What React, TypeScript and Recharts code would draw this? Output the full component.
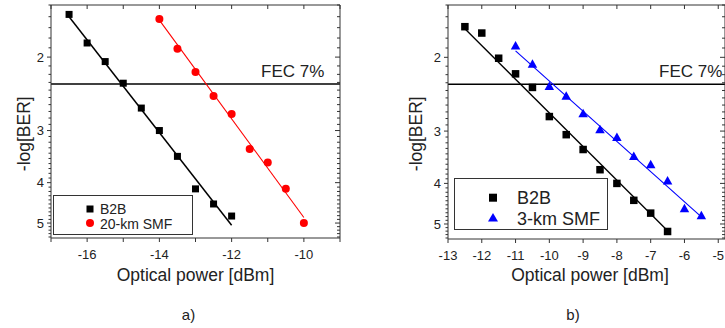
import React from 'react'
import { ComposedChart, Line, Scatter, XAxis, YAxis, ReferenceLine } from 'recharts'

// panel a) data
const b2bAx = [-16.5, -16, -15.5, -15, -14.5, -14, -13.5, -13, -12.5, -12]
const b2bAy = [1.58, 1.85, 2.05, 2.31, 2.65, 3.0, 3.46, 4.14, 4.5, 4.81]
const smf20x = [-14, -13.5, -13, -12.5, -12, -11.5, -11, -10.5, -10]
const smf20y = [1.62, 1.91, 2.17, 2.48, 2.74, 3.32, 3.58, 4.14, 5.0]
const fitB2bAx = [-16.5, -12]
const fitB2bAy = [1.6, 5.06]
const fitSmf20x = [-14, -10]
const fitSmf20y = [1.63, 4.85]

// panel b) data
const b2bBx = [-12.5, -12, -11.5, -11, -10.5, -10, -9.5, -9, -8.5, -8, -7.5, -7, -6.5]
const b2bBy = [1.69, 1.75, 2.01, 2.19, 2.36, 2.77, 3.06, 3.32, 3.71, 4.0, 4.39, 4.71, 5.21]
const smf3x = [-11, -10.5, -10, -9.5, -9, -8.5, -8, -7.5, -7, -6.5, -6, -5.5]
const smf3y = [1.88, 2.08, 2.35, 2.48, 2.73, 2.98, 3.11, 3.45, 3.61, 3.95, 4.6, 4.78]
const fitB2bBx = [-12.5, -6.5]
const fitB2bBy = [1.71, 5.19]
const fitSmf3x = [-11, -5.5]
const fitSmf3y = [1.93, 4.81]

const fecLevel = 2.32
const yMajor = [2, 3, 4, 5]
const yMinor = [1.5, 1.6, 1.7, 1.8, 1.9, 2.1, 2.2, 2.3, 2.4, 2.5, 2.6, 2.7, 2.8, 2.9,
  3.1, 3.2, 3.3, 3.4, 3.5, 3.6, 3.7, 3.8, 3.9, 4.1, 4.2, 4.3, 4.4, 4.5, 4.6, 4.7, 4.8, 4.9, 5.1, 5.2, 5.3, 5.4]
const yAllTicks = [...yMajor, ...yMinor].sort((a, b) => a - b)
const xTicksA = [-17, -16, -15, -14, -13, -12, -11, -10, -9]
const xTicksB = [-13, -12, -11, -10, -9, -8, -7, -6, -5]

const zip = (xs: number[], ys: number[]) => xs.map((x, i) => ({ x, y: ys[i] }))

const FONT = '"Liberation Sans", Arial, sans-serif'
const AX = '#333'
const Y_DOMAIN: [number, number] = [1.5, 5.43]

const Square = (s: number, fill: string) => (p: any) =>
  <rect x={p.cx - s / 2} y={p.cy - s / 2} width={s} height={s} fill={fill} />
const Dot = (r: number, fill: string) => (p: any) =>
  <circle cx={p.cx} cy={p.cy} r={r} fill={fill} />
const Tri = (w: number, h: number, fill: string) => (p: any) =>
  <polygon points={`${p.cx},${p.cy - h * 0.6} ${p.cx - w / 2},${p.cy + h * 0.4} ${p.cx + w / 2},${p.cy + h * 0.4}`} fill={fill} />

// tick renderers: tickSize/tickMargin are 0, so x / y sit on the axis line
const xTick = (len: number, every: number | null) => (p: any) => {
  const v = p.payload.value
  const show = every !== null && Math.abs(Math.round(v) % every) === 0
  return (
    <g>
      <line x1={p.x} y1={p.y} x2={p.x} y2={p.y + len} stroke={AX} />
      {show && <text x={p.x} y={p.y + 12} dy="0.72em" textAnchor="middle" fontSize={13} fill="#222" fontFamily={FONT}>{String(v)}</text>}
    </g>
  )
}
const yTick = (majorLen: number, minorLen: number, label: boolean) => (p: any) => {
  const v = p.payload.value
  const major = yMajor.includes(v)
  const len = major ? majorLen : minorLen
  return (
    <g>
      <line x1={p.x} y1={p.y} x2={p.x - len} y2={p.y} stroke={AX} />
      {label && major && <text x={p.x - 7} y={p.y} dy="0.36em" textAnchor="end" fontSize={13} fill="#222" fontFamily={FONT}>{v}</text>}
    </g>
  )
}

type Series = { data: { x: number; y: number }[]; shape: any }
type Fit = { data: { x: number; y: number }[]; color: string; width: number }

function Panel({ width, margin, xDomain, xTicks, every, series, fits }: {
  width: number; margin: any; xDomain: [number, number]; xTicks: number[]; every: number; series: Series[]; fits: Fit[]
}) {
  return (
    <ComposedChart width={width} height={328} margin={margin} style={{ overflow: 'visible' }}>
      <XAxis xAxisId="b" dataKey="x" type="number" domain={xDomain} allowDataOverflow ticks={xTicks} interval={0}
        height={1} stroke={AX} tickLine={false} tickSize={0} tickMargin={0} tick={xTick(4, every)} />
      <XAxis xAxisId="t" orientation="top" dataKey="x" type="number" domain={xDomain} allowDataOverflow ticks={xTicks}
        interval={0} height={1} stroke={AX} tickLine={false} tickSize={0} tickMargin={0} tick={xTick(4, null)} />
      <YAxis yAxisId="l" dataKey="y" scale="log" domain={Y_DOMAIN} allowDataOverflow reversed ticks={yAllTicks}
        interval={0} width={1} stroke={AX} tickLine={false} tickSize={0} tickMargin={0} tick={yTick(4, 2.5, true)} />
      <YAxis yAxisId="r" orientation="right" scale="log" domain={Y_DOMAIN} allowDataOverflow reversed
        ticks={yAllTicks} interval={0} width={1} stroke={AX} tickLine={false} tickSize={0} tickMargin={0}
        tick={yTick(5, 3, false)} />
      <ReferenceLine xAxisId="b" yAxisId="l" y={fecLevel} stroke="#000" strokeWidth={1.5} />
      {fits.map((f, i) => (
        <Line key={'f' + i} xAxisId="b" yAxisId="l" data={f.data} dataKey="y" stroke={f.color} strokeWidth={f.width}
          dot={false} activeDot={false} isAnimationActive={false} />
      ))}
      {series.map((s, i) => (
        <Scatter key={'s' + i} xAxisId="b" yAxisId="l" data={s.data} dataKey="y" shape={s.shape} isAnimationActive={false} />
      ))}
    </ComposedChart>
  )
}

const abs = (left: number, top: number, extra: any = {}): React.CSSProperties => ({
  position: 'absolute', left, top, fontFamily: FONT, lineHeight: 1, whiteSpace: 'nowrap', color: '#222', ...extra,
})

function Text({ x, y, size, children, center, rotate }: any) {
  return (
    <div style={abs(x, y - 0.8465 * size, {
      fontSize: size,
      transform: rotate ? 'translate(-50%, 0) rotate(-90deg)' : center ? 'translate(-50%, 0)' : undefined,
      transformOrigin: rotate ? '50% 50%' : undefined,
    })}>{children}</div>
  )
}

export default function App() {
  return (
    <div style={{ position: 'absolute', left: 0, top: 0, width: 725, height: 328, background: '#fff', overflow: 'hidden' }}>
      <div style={{ position: 'absolute', left: 0, top: 0 }}>
        <Panel width={362} margin={{ top: 4, right: 21, bottom: 89, left: 50 }} xDomain={[-17, -9]} xTicks={xTicksA} every={2}
          fits={[
            { data: zip(fitB2bAx, fitB2bAy), color: '#000', width: 1.5 },
            { data: zip(fitSmf20x, fitSmf20y), color: '#ff0000', width: 1.1 },
          ]}
          series={[
            { data: zip(b2bAx, b2bAy), shape: Square(7, '#000') },
            { data: zip(smf20x, smf20y), shape: Dot(4, '#ff0000') },
          ]} />
      </div>
      <div style={{ position: 'absolute', left: 362, top: 0 }}>
        <Panel width={366} margin={{ top: 4, right: 2, bottom: 88, left: 85 }} xDomain={[-13, -4.8]} xTicks={xTicksB} every={1}
          fits={[
            { data: zip(fitB2bBx, fitB2bBy), color: '#000', width: 1.3 },
            { data: zip(fitSmf3x, fitSmf3y), color: '#0000ff', width: 1.1 },
          ]}
          series={[
            { data: zip(b2bBx, b2bBy), shape: Square(7.5, '#000') },
            { data: zip(smf3x, smf3y), shape: Tri(9.5, 8.5, '#0000ff') },
          ]} />
      </div>

      {/* legends */}
      <div style={abs(53, 195, { width: 140, height: 40, border: `1px solid ${AX}`, boxSizing: 'border-box', fontSize: 14 })}>
        <svg width={140} height={40} style={{ position: 'absolute', left: -1, top: -1 }}>
          <rect x={33.5} y={10.5} width={7} height={7} fill="#000" />
          <circle cx={37} cy={28} r={4} fill="#ff0000" />
        </svg>
        <div style={abs(46, 14 - 7, { lineHeight: '12px' })}>B2B</div>
        <div style={abs(46, 28 - 6, { lineHeight: '12px' })}>20-km SMF</div>
      </div>
      <div style={abs(454, 178, { width: 154, height: 52, border: `1px solid ${AX}`, boxSizing: 'border-box', fontSize: 18 })}>
        <svg width={154} height={52} style={{ position: 'absolute', left: -1, top: -1 }}>
          <rect x={35} y={15.7} width={8} height={8} fill="#000" />
          <polygon points="39,35 34,43.5 44,43.5" fill="#0000ff" />
        </svg>
        <div style={abs(62, 19.7 - 9, { lineHeight: '16px' })}>B2B</div>
        <div style={abs(62, 40.7 - 9, { lineHeight: '16px' })}>3-km SMF</div>
      </div>

      {/* annotations */}
      <Text x={261} y={77.3} size={17}>FEC 7%</Text>
      <Text x={659} y={77.3} size={17}>FEC 7%</Text>
      <Text x={195.5} y={282} size={17.5} center>Optical power [dBm]</Text>
      <Text x={590} y={282} size={17.5} center>Optical power [dBm]</Text>
      <Text x={25} y={140} size={17.5} rotate>-log[BER]</Text>
      <Text x={417} y={140} size={17.5} rotate>-log[BER]</Text>
      <Text x={188.5} y={320} size={15} center>a)</Text>
      <Text x={573} y={320} size={15} center>b)</Text>
    </div>
  )
}
